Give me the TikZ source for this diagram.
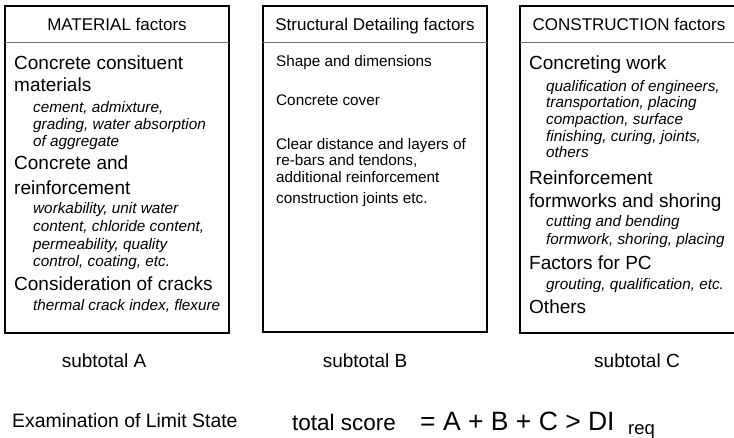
\documentclass[tikz,border=0pt]{standalone}
\usepackage{fontspec}
\setmainfont{Liberation Sans}
\begin{document}
\begin{tikzpicture}[x=1pt,y=-1pt,
  frame/.style={draw=black,line width=1.6pt},
  sep/.style={draw=black!55,line width=1pt},
  hdr/.style={font=\fontsize{17}{20}\selectfont,anchor=base},
  big/.style={font=\fontsize{19}{22}\selectfont,anchor=base west,inner sep=0pt},
  itl/.style={font=\fontsize{15.3}{18}\selectfont\itshape,anchor=base west,inner sep=0pt},
  mid/.style={font=\fontsize{15.3}{18}\selectfont,anchor=base west,inner sep=0pt},
  sub/.style={font=\fontsize{19}{22}\selectfont,anchor=base,inner sep=0pt}]
\useasboundingbox (0,0) rectangle (734,438);
\fill[white] (0,0) rectangle (734,438);
% boxes
\draw[frame] (5,6) rectangle (229,333);
\draw[sep] (5,43) -- (229,43);
\draw[frame] (263,6) rectangle (487,332);
\draw[sep] (263,43) -- (487,43);
\draw[frame] (520,6) rectangle (740,333);
\draw[sep] (520,43) -- (740,43);
% headers
\node[hdr] (hA) at (117,31) {MATERIAL factors};
\node[hdr] (hB) at (375,31) {Structural Detailing factors};
\node[hdr] (hC) at (629,31) {CONSTRUCTION factors};
% box A
\node[big] (a1) at (14,70) {Concrete consituent};
\node[big] (a2) at (14,92) {materials};
\node[itl] (a3) at (33,113) {cement, admixture,};
\node[itl] (a4) at (33,130) {grading, water absorption};
\node[itl] (a5) at (33,147) {of aggregate};
\node[big] (a6) at (14,170) {Concrete and};
\node[big] (a7) at (14,195) {reinforcement};
\node[itl] (a8) at (33,214) {workability, unit water};
\node[itl] (a9) at (33,232) {content, chloride content,};
\node[itl] (a10) at (33,250) {permeability, quality};
\node[itl] (a11) at (33,267) {control, coating, etc.};
\node[big] (a12) at (14,291) {Consideration of cracks};
\node[itl] (a13) at (33,311) {thermal crack index, flexure};
% box B
\node[mid] (b1) at (276,67) {Shape and dimensions};
\node[mid] (b2) at (276,106) {Concrete cover};
\node[mid] (b3) at (276,150) {Clear distance and layers of};
\node[mid] (b4) at (276,166) {re-bars and tendons,};
\node[mid] (b5) at (276,183) {additional reinforcement};
\node[mid] (b6) at (276,204) {construction joints etc.};
% box C
\node[big] (c1) at (529,70) {Concreting work};
\node[itl] (c2) at (546,92) {qualification of engineers,};
\node[itl] (c3) at (546,108) {transportation, placing};
\node[itl] (c4) at (546,125) {compaction, surface};
\node[itl] (c5) at (546,142) {finishing, curing, joints,};
\node[itl] (c6) at (546,158) {others};
\node[big] (c7) at (529,185) {Reinforcement};
\node[big] (c8) at (529,208) {formworks and shoring};
\node[itl] (c9) at (546,227) {cutting and bending};
\node[itl] (c10) at (546,245) {formwork, shoring, placing};
\node[big] (c11) at (529,270) {Factors for PC};
\node[itl] (c12) at (546,290) {grouting, qualification, etc.};
\node[big] (c13) at (529,314) {Others};
% subtotals
\node[sub] (sA) at (104,367) {subtotal A};
\node[sub] (sB) at (365,368) {subtotal B};
\node[sub] (sC) at (637,368) {subtotal C};
% bottom line
\node[font=\fontsize{19.4}{22}\selectfont,anchor=base west,inner sep=0pt] (ex) at (12,428) {Examination of Limit State};
\node[font=\fontsize{22.5}{26}\selectfont,anchor=base west,inner sep=0pt] (ts) at (292,430) {total score};
\node[font=\fontsize{26.5}{30}\selectfont,anchor=base west,inner sep=0pt] (eq) at (420,431) {= A + B + C > DI};
\node[font=\fontsize{18.5}{22}\selectfont,anchor=base west,inner sep=0pt] (rq) at (628,434) {req};
\end{tikzpicture}
\end{document}
